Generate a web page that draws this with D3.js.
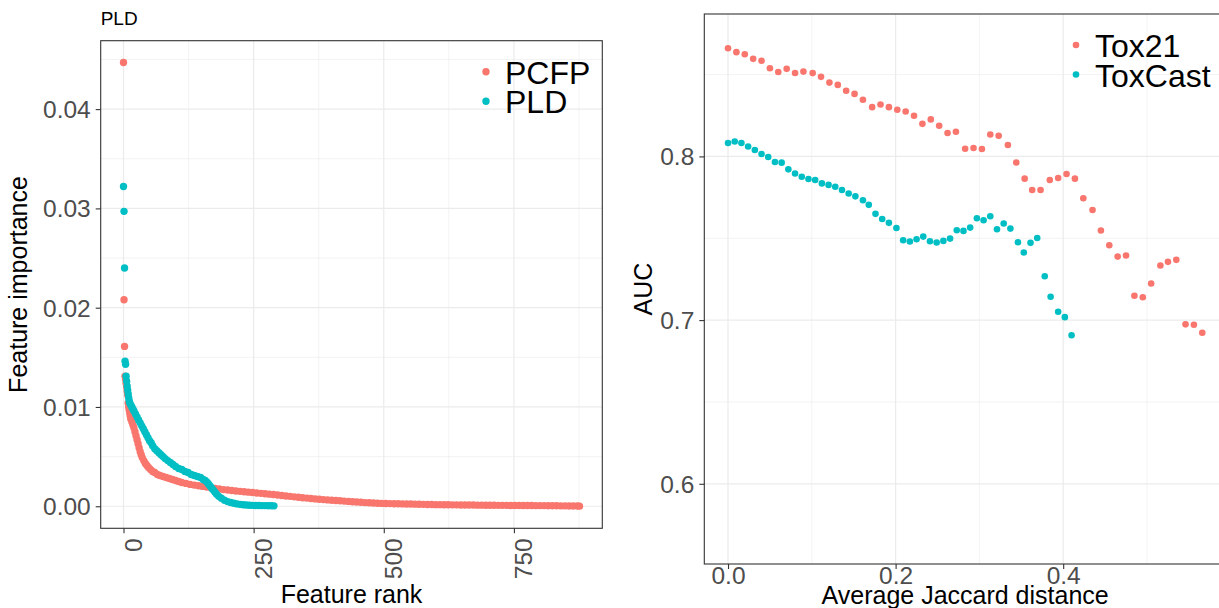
<!DOCTYPE html>
<html>
<head>
<meta charset="utf-8">
<script src="https://cdn.jsdelivr.net/npm/d3@7"></script>
<style>
  body { margin: 0; background: #fff; }
  svg { display: block; font-family: "Liberation Sans", Arial, sans-serif; }
</style>
</head>
<body>
<svg width="1219" height="608"></svg>
<script>
// left panel: feature importance by rank
var pcfpRank = [0,1,2,3,4,5,6,7,8,9,10,11,12,13,14,16,18,20,22,24,26,28,30,32,34,36,39,42,45,48,52,56,60,65,70,76,82,88,94,100,106,112,120,128,136,144,152,160,168,176,184,192,200,208,216,224,232,240,248,256,264,272,280,288,296,304,312,320,328,336,344,352,360,368,376,384,392,400,408,416,424,432,440,448,456,464,472,480,488,496,504,512,520,528,536,544,552,560,568,576,584,592,600,608,616,624,632,640,648,656,664,672,680,688,696,704,712,720,728,736,744,752,760,768,776,784,792,800,808,816,824,832,840,848,856,864,872,876];
var pcfpImp = [0.0447,0.0208,0.0161,0.0131,0.0128,0.0124,0.0120,0.0116,0.0112,0.0104,0.0100,0.0097,0.0094,0.0091,0.0088,0.0085,0.0082,0.0079,0.0075,0.0071,0.0067,0.0063,0.0059,0.0055,0.0052,0.0049,0.0046,0.0043,0.0041,0.0039,0.0037,0.0035,0.0034,0.0032,0.0031,0.0030,0.0029,0.0028,0.0027,0.0026,0.0025,0.0024,0.0023,0.0022,0.00213,0.00206,0.00200,0.00193,0.00186,0.00180,0.00174,0.00168,0.00163,0.00158,0.00154,0.00150,0.00146,0.00142,0.00138,0.00134,0.00130,0.00126,0.00122,0.00118,0.00113,0.00109,0.00104,0.00100,0.00095,0.00091,0.00086,0.00082,0.00078,0.00074,0.00070,0.00067,0.00064,0.00061,0.00058,0.00055,0.00052,0.00049,0.00046,0.00043,0.00040,0.00037,0.00035,0.00033,0.00031,0.00029,0.00028,0.00027,0.00026,0.00025,0.00024,0.00023,0.00022,0.00021,0.00020,0.00019,0.00018,0.00017,0.00016,0.00016,0.00015,0.00015,0.00014,0.00014,0.00013,0.00013,0.00012,0.00012,0.00011,0.00011,0.00010,0.00010,0.00010,0.00009,0.00009,0.00009,0.00008,0.00008,0.00008,0.00007,0.00007,0.00007,0.00006,0.00006,0.00006,0.00005,0.00005,0.00005,0.00004,0.00004,0.00003,0.00003,0.00002,0.00001];

var pldRank = [0,1,2,3,4,5,6,7,8,9,10,11,12,14,16,18,20,23,26,29,32,35,38,41,44,47,50,53,56,60,64,68,72,76,80,85,90,95,100,106,112,118,124,130,136,142,148,153,157,161,164,167,170,173,176,179,183,188,194,200,206,212,218,224,230,236,242,248,254,260,266,272,278,284,289];
var pldImp = [0.0322,0.0297,0.0240,0.0146,0.0143,0.0131,0.0126,0.0121,0.0117,0.0113,0.0109,0.0106,0.0104,0.0102,0.0100,0.0098,0.0096,0.0093,0.0090,0.0087,0.0084,0.0081,0.0078,0.0075,0.0072,0.0069,0.0066,0.0064,0.0061,0.0058,0.0056,0.0054,0.0052,0.0050,0.0048,0.0046,0.0044,0.0042,0.0040,0.0038,0.0037,0.0035,0.0034,0.0032,0.0031,0.0030,0.0029,0.0027,0.0026,0.0024,0.0022,0.0020,0.0018,0.0016,0.0014,0.0012,0.0010,0.0008,0.0006,0.00047,0.00038,0.00030,0.00024,0.00019,0.00015,0.00012,0.00010,0.00009,0.00008,0.00007,0.00006,0.00006,0.00005,0.00005,0.00004];

// right panel: AUC vs average Jaccard distance
var tox21Dist = [0.000,0.010,0.020,0.030,0.040,0.050,0.060,0.070,0.080,0.090,0.101,0.111,0.121,0.131,0.141,0.151,0.161,0.172,0.182,0.192,0.202,0.212,0.222,0.232,0.242,0.252,0.262,0.272,0.283,0.293,0.303,0.313,0.323,0.334,0.344,0.354,0.363,0.373,0.384,0.394,0.404,0.414,0.424,0.435,0.445,0.455,0.465,0.475,0.485,0.495,0.505,0.516,0.525,0.535,0.546,0.556,0.566];
var tox21Auc = [0.8661,0.8637,0.8624,0.8596,0.8584,0.8539,0.8516,0.8535,0.8510,0.8518,0.8509,0.8486,0.8451,0.8437,0.8401,0.8382,0.8346,0.8301,0.8317,0.8301,0.8285,0.8274,0.8248,0.8199,0.8226,0.8187,0.8143,0.8151,0.8047,0.8051,0.8045,0.8134,0.8126,0.8070,0.7963,0.7864,0.7795,0.7795,0.7856,0.7868,0.7893,0.7864,0.7744,0.7673,0.7547,0.7457,0.7388,0.7395,0.7149,0.7140,0.7224,0.7334,0.7356,0.7368,0.6974,0.6972,0.6923];
var toxcastDist = [0.000,0.008,0.016,0.024,0.032,0.040,0.048,0.056,0.064,0.072,0.080,0.088,0.096,0.104,0.112,0.120,0.128,0.136,0.144,0.152,0.161,0.168,0.176,0.184,0.192,0.201,0.209,0.217,0.225,0.233,0.241,0.249,0.257,0.265,0.273,0.281,0.289,0.297,0.305,0.313,0.321,0.329,0.337,0.346,0.353,0.361,0.369,0.378,0.385,0.394,0.402,0.410];
var toxcastAuc = [0.8082,0.8091,0.8082,0.8061,0.8039,0.8015,0.7996,0.7966,0.7962,0.7921,0.7896,0.7876,0.7862,0.7856,0.7835,0.7826,0.7815,0.7795,0.7773,0.7756,0.7732,0.7704,0.7649,0.7618,0.7594,0.7563,0.7488,0.7480,0.7494,0.7510,0.7482,0.7474,0.7484,0.7498,0.7549,0.7545,0.7565,0.7622,0.7610,0.7634,0.7555,0.7590,0.7559,0.7476,0.7413,0.7472,0.7502,0.7268,0.7143,0.7051,0.7018,0.6907];

var rankTicks = [0, 250, 500, 750], rankMinor = [125, 375, 625, 875];
var impTicks = [0, 0.01, 0.02, 0.03, 0.04], impMinor = [0.005, 0.015, 0.025, 0.035, 0.045];
var impLabels = ["0.00", "0.01", "0.02", "0.03", "0.04"];
var distTicks = [0, 0.2, 0.4], distMinor = [0.1, 0.3, 0.5];
var distLabels = ["0.0", "0.2", "0.4"];
var aucTicks = [0.6, 0.7, 0.8], aucMinor = [0.65, 0.75, 0.85];
var aucLabels = ["0.6", "0.7", "0.8"];

var leftNames = ["PCFP", "PLD"], rightNames = ["Tox21", "ToxCast"];
var red = "#F8766D", teal = "#00BFC4";

var svg = d3.select("svg");

function zip(a, b) { return a.map(function(v, i) { return {x: v, y: b[i]}; }); }

function panel(o) {
  var g = svg.append("g");
  var x = o.x, y = o.y;
  var xr = x.range(), yr = y.range();

  g.selectAll(".gxm").data(o.xMinor).enter().append("line")
      .attr("x1", x).attr("x2", x).attr("y1", yr[0]).attr("y2", yr[1])
      .attr("stroke", "#EBEBEB").attr("stroke-width", 0.6);
  g.selectAll(".gym").data(o.yMinor).enter().append("line")
      .attr("y1", y).attr("y2", y).attr("x1", xr[0]).attr("x2", xr[1])
      .attr("stroke", "#EBEBEB").attr("stroke-width", 0.6);
  g.selectAll(".gx").data(o.xTicks).enter().append("line")
      .attr("x1", x).attr("x2", x).attr("y1", yr[0]).attr("y2", yr[1])
      .attr("stroke", "#EBEBEB").attr("stroke-width", 1.2);
  g.selectAll(".gy").data(o.yTicks).enter().append("line")
      .attr("y1", y).attr("y2", y).attr("x1", xr[0]).attr("x2", xr[1])
      .attr("stroke", "#EBEBEB").attr("stroke-width", 1.2);

  o.series.forEach(function(s) {
    g.append("g").selectAll("circle").data(s.data).enter().append("circle")
        .attr("cx", function(d) { return x(d.x); })
        .attr("cy", function(d) { return y(d.y); })
        .attr("r", o.r)
        .attr("fill", s.color);
  });

  g.append("rect")
      .attr("x", xr[0]).attr("y", yr[1])
      .attr("width", xr[1] - xr[0]).attr("height", yr[0] - yr[1])
      .attr("fill", "none").attr("stroke", "#333333").attr("stroke-width", 1.1);

  // axes
  var ax = g.append("g").attr("transform", "translate(0," + yr[0] + ")")
      .call(d3.axisBottom(x).tickValues(o.xTicks).tickSize(5).tickFormat(function(d, i) { return o.xLabels[i]; }));
  var ay = g.append("g").attr("transform", "translate(" + xr[0] + ",0)")
      .call(d3.axisLeft(y).tickValues(o.yTicks).tickSize(5).tickPadding(5).tickFormat(function(d, i) { return o.yLabels[i]; }));
  [ax, ay].forEach(function(a) {
    a.select(".domain").remove();
    a.selectAll("line").attr("stroke", "#333333").attr("stroke-width", 1.1);
    a.selectAll("text").attr("fill", "#4D4D4D").style("font-size", "24.5px").style("font-family", "Liberation Sans, Arial, sans-serif");
  });
  ay.selectAll("text").attr("dy", "0.35em");
  if (o.rotateX) {
    ax.selectAll("text")
        .attr("text-anchor", "end")
        .attr("dy", null)
        .attr("y", 0)
        .attr("transform", "translate(18,10) rotate(-90)");
  } else {
    ax.selectAll("text").attr("dy", null).attr("y", 20);
  }

  g.append("text")
      .attr("x", (xr[0] + xr[1]) / 2).attr("y", o.xTitleY)
      .attr("text-anchor", "middle").style("font-size", "25px").attr("fill", "#000")
      .text(o.xTitle);
  g.append("text")
      .attr("transform", "translate(" + o.yTitleX + "," + (yr[0] + yr[1]) / 2 + ") rotate(-90)")
      .attr("text-anchor", "middle").style("font-size", "25px").attr("fill", "#000")
      .text(o.yTitle);

  // legend inside top right
  var lg = g.append("g");
  o.series.forEach(function(s, i) {
    lg.append("circle")
        .attr("cx", o.legX).attr("cy", yr[1] + 31 + i * 29.5)
        .attr("r", o.r).attr("fill", s.color);
    lg.append("text")
        .attr("x", o.legX + 19).attr("y", yr[1] + 43 + i * 29.5)
        .style("font-size", "32px").attr("fill", "#000")
        .text(s.name);
  });
}

var xL = d3.scaleLinear().domain([-43.8, 919.8]).range([100.7, 602.3]);
var yL = d3.scaleLinear().domain([-0.00222, 0.04689]).range([528.3, 40.7]);

panel({
  x: xL, y: yL, r: 3.7,
  xTicks: rankTicks, xMinor: rankMinor, xLabels: rankTicks.map(String),
  yTicks: impTicks, yMinor: impMinor, yLabels: impLabels,
  rotateX: true,
  xTitle: "Feature rank", xTitleY: 603,
  yTitle: "Feature importance", yTitleX: 27,
  legX: 486,
  series: [
    {name: leftNames[1], color: teal, data: zip(pldRank, pldImp)},
    {name: leftNames[0], color: red, data: zip(pcfpRank, pcfpImp)}
  ].reverse()
});

var xR = d3.scaleLinear().domain([-0.0283, 0.5943]).range([704.3, 1226]);
var yR = d3.scaleLinear().domain([0.551, 0.887]).range([564, 14]);

panel({
  x: xR, y: yR, r: 3.3,
  xTicks: distTicks, xMinor: distMinor, xLabels: distLabels,
  yTicks: aucTicks, yMinor: aucMinor, yLabels: aucLabels,
  rotateX: false,
  xTitle: "Average Jaccard distance", xTitleY: 604,
  yTitle: "AUC", yTitleX: 652,
  legX: 1076,
  series: [
    {name: rightNames[0], color: red, data: zip(tox21Dist, tox21Auc)},
    {name: rightNames[1], color: teal, data: zip(toxcastDist, toxcastAuc)}
  ]
});

svg.append("text")
    .attr("x", 100.7).attr("y", 25)
    .style("font-size", "19px").attr("fill", "#000")
    .text("PLD");
</script>
</body>
</html>
